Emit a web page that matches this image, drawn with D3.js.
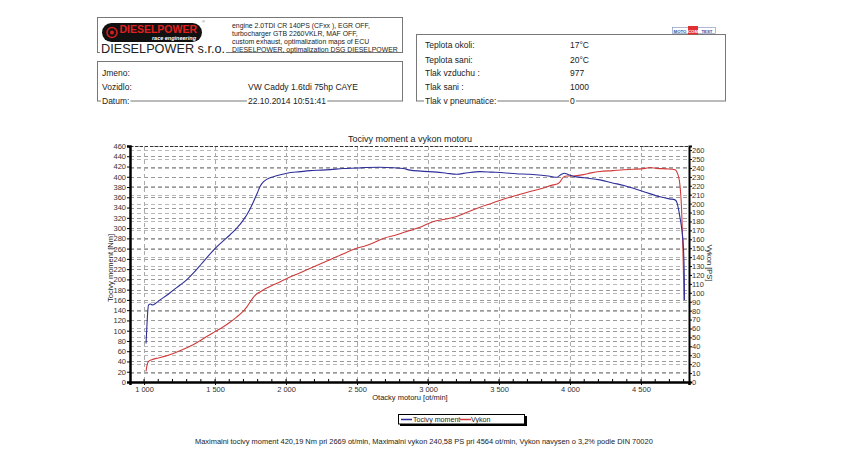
<!DOCTYPE html>
<html><head><meta charset="utf-8">
<script src="https://cdn.jsdelivr.net/npm/d3@7"></script>
<style>
html,body{margin:0;padding:0;background:#fff;}
svg text{font-family:"Liberation Sans",Arial,sans-serif;}
</style></head>
<body><svg id="c" width="850" height="473"></svg>
<script>
// ---------- DATA ----------
const torqueRpm = [1014,1022,1031,1045,1060,1080,1113,1160,1206,1250,1300,1350,1406,1450,1500,1550,1606,1650,1700,1740,1770,1800,1817,1840,1864,1911,1960,2005,2100,2169,2250,2310,2404,2500,2560,2660,2760,2826,2873,2950,3061,3130,3201,3280,3366,3450,3530,3620,3718,3800,3859,3906,3940,3960,3990,4023,4100,4211,4300,4380,4446,4530,4634,4700,4740,4755,4764,4775,4787,4799,4805,4806];
const torqueNm  = [75,120,150,152,150,153,160,169,179,188,199,213,231,245,260,273,287,299,316,334,351,370,381,390,395,400,404,407,410,412,413,414,416,417,418,418.5,417.5,416,413,411,409,407,405,408,410,409,408,406,405,403,401,399,405,407,404,401,398,394,388,383,377.5,370,361,357,355,348,337,320,298,260,200,160];
const powerRpm  = [1014,1020,1031,1054,1100,1150,1206,1260,1324,1380,1441,1500,1559,1610,1653,1690,1723,1770,1800,1817,1860,1911,1960,2005,2100,2200,2310,2400,2498,2545,2600,2685,2780,2873,2944,3038,3120,3201,3280,3366,3450,3530,3620,3718,3800,3882,3910,3930,3955,3977,4023,4094,4150,4211,4300,4380,4446,4530,4564,4610,4680,4740,4751,4770,4787,4795,4799,4803];
const powerPs   = [12,18,23,25,27,29,32,35.5,40,45,51,56.5,62,67.5,73,78,84,95,99.5,101,105,109,112.5,116,122.5,129.5,137,143.5,150,152,155,161,165,170,173.5,180,182.5,185.5,190.5,196,200.5,205,209,213.5,217,221,222,224.5,230,231,231,232.5,234.5,236,237,238,238.5,239.5,240.5,239.5,239,238,236,226,189,150,122,92];
const xTicks = [1000,1500,2000,2500,3000,3500,4000,4500];
const leftTicks = d3.range(0,461,20);
const rightTicks = d3.range(0,261,10);
const seriesNames = ["Tocivy moment","Vykon"];
const engineLines = ["engine 2.0TDI CR 140PS (CFxx ), EGR OFF,","turbocharger GTB 2260VKLR, MAF OFF,","custom exhaust,  optimalization maps of ECU","DIESELPOWER, optimalization DSG DIESELPOWER"];
const vehicleLabels = ["Jmeno:","Vozidlo:","Datum:"];
const vehicleValues = ["","VW Caddy 1.6tdi 75hp CAYE","22.10.2014 10:51:41"];
const condLabels = ["Teplota okoli:","Teplota sani:","Tlak vzduchu :","Tlak sani :","Tlak v pneumatice:"];
const condValues = ["17°C","20°C","977","1000","0"];
const footer = "Maximalni tocivy moment 420,19 Nm pri 2669 ot/min,  Maximalni vykon 240,58 PS pri 4564 ot/min,  Vykon navysen o 3,2% podle DIN 70020";

// ---------- LAYOUT ----------
const svg = d3.select("#c");
const L=130,R=689,T=146,B=382;
const x = d3.scaleLinear().domain([901,4838]).range([L,R]);
const yL = d3.scaleLinear().domain([0,460]).range([B,T]);
const yR = d3.scaleLinear().domain([0,264.6]).range([B,T]);
const loc = d3.formatLocale({decimal:",",thousands:"\u00a0",grouping:[3],currency:["",""]});
const fmt = loc.format(",");
const blue="#2e2e9a", red="#d03a3a";

function ktext(g,tx,ty,str,size,anchor){
  const t=g.append("text").attr("x",tx).attr("y",ty).attr("font-size",size).attr("fill","#222").attr("text-anchor",anchor||"start").text(str);
  if(str){const bb=t.node().getBBox();
    g.insert("rect",()=>t.node()).attr("x",bb.x-1).attr("y",bb.y+bb.height*0.45).attr("width",bb.width+2).attr("height",bb.height*0.4).attr("fill","#fff");}
  return t;
}

// ---------- HEADER ----------
const h=svg.append("g");
h.append("rect").attr("x",97.5).attr("y",17.5).attr("width",305).attr("height",35).attr("fill","none").attr("stroke","#777");
h.append("rect").attr("x",97.5).attr("y",61.5).attr("width",305).attr("height",39.5).attr("fill","none").attr("stroke","#777");
h.append("rect").attr("x",416.5).attr("y",34.5).attr("width",309).attr("height",66.5).attr("fill","none").attr("stroke","#777");
h.append("rect").attr("x",102).attr("y",23).attr("width",100).attr("height",19).attr("rx",9.5).attr("fill","#111");
h.append("circle").attr("cx",112).attr("cy",32.5).attr("r",5).attr("fill","none").attr("stroke","#d02020").attr("stroke-width",1.6);
h.append("circle").attr("cx",112).attr("cy",32.5).attr("r",2).attr("fill","#d02020");
h.append("text").attr("x",197).attr("y",33).attr("text-anchor","end").attr("font-size",10.5).attr("font-weight","bold").attr("fill","#e02020").text("DIESELPOWER");
h.append("text").attr("x",196).attr("y",40).attr("text-anchor","end").attr("font-size",5.5).attr("font-style","italic").attr("font-weight","bold").attr("fill","#fff").text("race engineering");
h.append("text").attr("x",202).attr("y",23).attr("font-size",4).attr("fill","#666").text("®");
ktext(h,101,53,"DIESELPOWER s.r.o.",12.7);
engineLines.forEach((s,i)=>h.append("text").attr("x",232).attr("y",27.5+i*8).attr("font-size",6.9).attr("fill","#222").text(s));
vehicleLabels.forEach((s,i)=>{
  const yy=[75.5,90,103.5][i];
  if(i===2){ktext(h,102,yy,s,8.5);ktext(h,248,yy,vehicleValues[i],8.5);}
  else{h.append("text").attr("x",102).attr("y",yy).attr("font-size",8.5).attr("fill","#222").text(s);
       h.append("text").attr("x",248).attr("y",yy).attr("font-size",8.5).attr("fill","#222").text(vehicleValues[i]);}
});
condLabels.forEach((s,i)=>{
  const yy=[48,62.5,76,89.5,103.5][i];
  if(i===4){ktext(h,425,yy,s,8.5);ktext(h,570,yy,condValues[i],8.5);}
  else{h.append("text").attr("x",425).attr("y",yy).attr("font-size",8.5).attr("fill","#222").text(s);
       h.append("text").attr("x",570).attr("y",yy).attr("font-size",8.5).attr("fill","#222").text(condValues[i]);}
});
const m=h.append("g");
m.append("rect").attr("x",672.5).attr("y",27.5).attr("width",43).attr("height",6).attr("fill","#fff").attr("stroke","#7a8ab8").attr("stroke-width",0.6);
m.append("rect").attr("x",688).attr("y",26).attr("width",10).attr("height",8.5).attr("fill","#e03030");
m.append("text").attr("x",680).attr("y",32.5).attr("text-anchor","middle").attr("font-size",4.3).attr("font-weight","bold").attr("fill","#3050a0").text("MOTO");
m.append("text").attr("x",693).attr("y",32.5).attr("text-anchor","middle").attr("font-size",4.3).attr("font-weight","bold").attr("fill","#fff").text("COM");
m.append("text").attr("x",707).attr("y",32.5).attr("text-anchor","middle").attr("font-size",4.3).attr("font-weight","bold").attr("fill","#3050a0").text("TEST");

// ---------- CHART ----------
const c=svg.append("g");
c.append("g").selectAll("line").data(rightTicks.slice(1)).join("line")
 .attr("x1",L).attr("x2",R).attr("y1",d=>Math.round(yR(d))+0.5).attr("y2",d=>Math.round(yR(d))+0.5)
 .attr("stroke","#b8b8b8").attr("stroke-dasharray","4,3").attr("stroke-width",1);
c.append("g").selectAll("line").data(leftTicks.slice(1)).join("line")
 .attr("x1",L).attr("x2",R).attr("y1",d=>Math.round(yL(d))+0.5).attr("y2",d=>Math.round(yL(d))+0.5)
 .attr("stroke","#999").attr("stroke-dasharray","4,3").attr("stroke-width",1);
c.append("g").selectAll("line").data(xTicks).join("line")
 .attr("x1",d=>Math.round(x(d))+0.5).attr("x2",d=>Math.round(x(d))+0.5).attr("y1",T).attr("y2",B)
 .attr("stroke","#aaa").attr("stroke-dasharray","4,3").attr("stroke-width",1);
c.append("line").attr("x1",L).attr("x2",R).attr("y1",T+0.5).attr("y2",T+0.5).attr("stroke","#333").attr("stroke-dasharray","3,2");

const ax=(g)=>{g.selectAll("text").attr("font-size",7.5).attr("fill","#333").attr("font-family","Liberation Sans, Arial, sans-serif");g.selectAll(".tick line").attr("stroke","#000");};
const gl=c.append("g").attr("transform",`translate(${L},0)`).call(d3.axisLeft(yL).tickValues(leftTicks).tickSize(3).tickPadding(1).tickFormat(d3.format("d"))).call(ax);
gl.select(".domain").attr("stroke","#000").attr("stroke-width",2.5);
const gr=c.append("g").attr("transform",`translate(${R},0)`).call(d3.axisRight(yR).tickValues(rightTicks).tickSize(3).tickPadding(0).tickFormat(d3.format("d"))).call(ax);
gr.select(".domain").attr("stroke","#000").attr("stroke-width",2);
const gb=c.append("g").attr("transform",`translate(0,${B})`).call(d3.axisBottom(x).tickValues(xTicks).tickSize(3).tickPadding(1.5).tickFormat(fmt)).call(ax);
gb.select(".domain").attr("stroke","#000").attr("stroke-width",2.5);
c.append("g").selectAll("line").data(d3.range(1000,4801,100)).join("line")
 .attr("x1",d=>x(d)).attr("x2",d=>x(d)).attr("y1",B-3).attr("y2",B).attr("stroke","#000");

const lt=d3.line().x((d,i)=>x(torqueRpm[i])).y(d=>yL(d)).curve(d3.curveMonotoneX);
const lp=d3.line().x((d,i)=>x(powerRpm[i])).y(d=>yR(d)).curve(d3.curveMonotoneX);
c.append("path").attr("d",lp(powerPs)).attr("fill","none").attr("stroke",red).attr("stroke-width",1.1);
c.append("path").attr("d",lt(torqueNm)).attr("fill","none").attr("stroke",blue).attr("stroke-width",1.1);

c.append("text").attr("x",410).attr("y",141.5).attr("text-anchor","middle").attr("font-size",9).attr("fill","#222").text("Tocivy moment a vykon motoru");
c.append("text").attr("x",410).attr("y",399.5).attr("text-anchor","middle").attr("font-size",7.5).attr("fill","#222").text("Otacky motoru [ot/min]");
c.append("text").attr("transform","translate(112.5,268) rotate(-90)").attr("text-anchor","middle").attr("font-size",7.5).attr("fill","#222").text("Tocivy moment [Nm]");
c.append("text").attr("transform","translate(707,263) rotate(90)").attr("text-anchor","middle").attr("font-size",7.5).attr("fill","#222").text("Vykon [PS]");

// legend
const lg=c.append("g");
lg.append("rect").attr("x",400).attr("y",416).attr("width",127).attr("height",10).attr("fill","#000");
lg.append("rect").attr("x",398.5).attr("y",414.5).attr("width",126).attr("height",9.5).attr("fill","#fff").attr("stroke","#000");
[[401,413,blue],[460,471,red]].forEach((p,i)=>{
  lg.append("line").attr("x1",p[0]).attr("x2",p[0]+11).attr("y1",419.5).attr("y2",419.5).attr("stroke",p[2]).attr("stroke-width",1.5);
  lg.append("text").attr("x",p[1]).attr("y",422).attr("font-size",7.1).attr("fill","#222").text(seriesNames[i]);
});

svg.append("text").attr("x",195).attr("y",444).attr("font-size",7.45).attr("fill","#222").text(footer);
</script></body></html>
